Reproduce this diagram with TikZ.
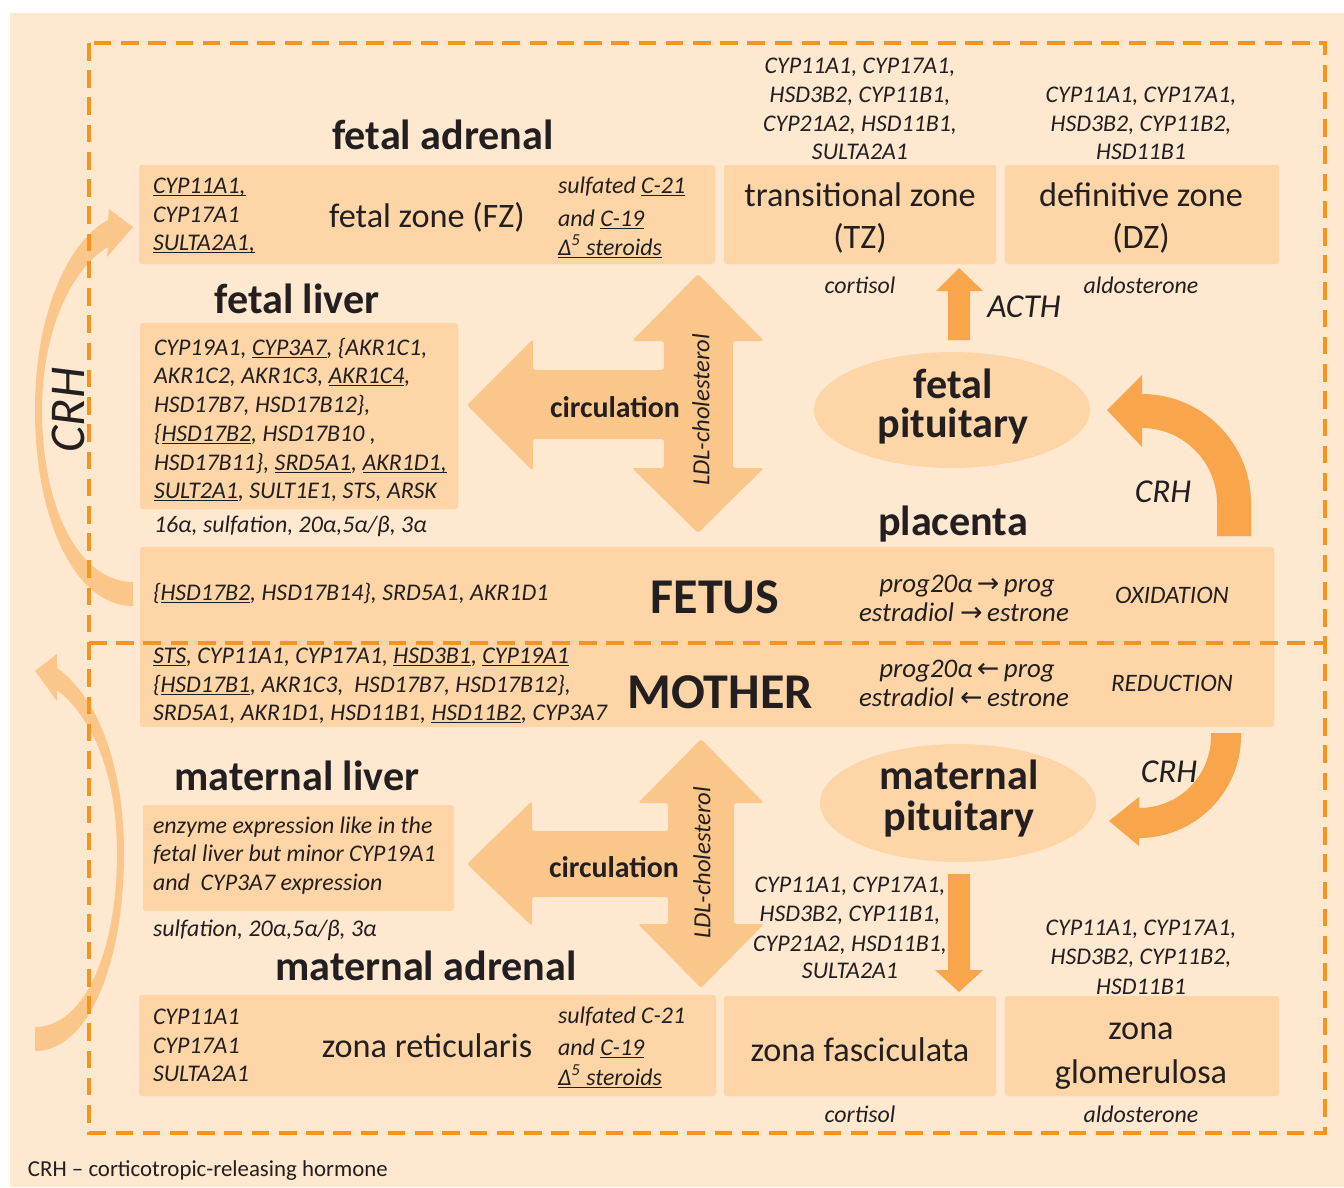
\documentclass[tikz,border=0pt]{standalone}
\usepackage{fontspec}
\setmainfont{Carlito}
\newfontfamily\symfont{DejaVu Sans}
\usetikzlibrary{shapes.geometric}
\definecolor{bgc}{HTML}{FEE8D0}
\definecolor{boxc}{HTML}{FDD5A6}
\definecolor{arrl}{HTML}{FBC68A}
\definecolor{arrd}{HTML}{F8A54B}
\definecolor{dashc}{HTML}{F7941E}
\definecolor{txt}{HTML}{231F20}
\newcommand\uln[1]{\underline{\smash{#1}}}
\newcommand\rar{{\symfont →}}
\newcommand\lar{{\symfont ←}}
\newcommand\pbox[5]{\node[boxst, minimum width={(#4-#2)*0.02cm}, minimum height={(#5-#3)*0.02cm}] (#1) at ({(#2+#4)/2},{(#3+#5)/2}) {};}
\tikzset{
  boxst/.style={fill=boxc, draw=none, inner sep=0pt, outer sep=0pt, rounded corners=1.5pt},
  ellst/.style={ellipse, fill=boxc, draw=none, inner sep=0pt},
  txtst/.style={text=txt, inner sep=0pt, outer sep=0pt},
  gene/.style={txtst, font=\fontsize{13.6}{16}\selectfont\itshape},
  hdr/.style={txtst, font=\fontsize{24}{28}\selectfont\bfseries},
  zonest/.style={txtst, font=\fontsize{19.5}{23}\selectfont},
  bigst/.style={txtst, font=\fontsize{28.5}{32}\selectfont\bfseries},
  circst/.style={txtst, font=\fontsize{17}{20}\selectfont\bfseries},
  ldlst/.style={txtst, font=\fontsize{14}{16}\selectfont\itshape, rotate=90},
  labst/.style={txtst, font=\fontsize{19}{22}\selectfont\itshape},
  progst/.style={txtst, font=\fontsize{15.3}{18}\selectfont\itshape},
  oxist/.style={txtst, font=\fontsize{14.3}{17}\selectfont\itshape},
  notest/.style={txtst, font=\fontsize{13}{16}\selectfont},
  lightarrow/.style={fill=arrl, draw=none},
  darkarrow/.style={fill=arrd, draw=none},
  frame/.style={draw=dashc, line width=2pt, dash pattern=on 10pt off 5.5pt}
}
\begin{document}
\begin{tikzpicture}[x=0.02cm, y=-0.02cm]
\useasboundingbox (0,0) rectangle (1344,1187);
\fill[white] (0,0) rectangle (1344,1187);
\fill[bgc] (10,13) rectangle (1344,1187);

% boxes
\pbox{fzbox}{139}{165}{715}{264}
\pbox{tzbox}{724}{165}{996}{264}
\pbox{dzbox}{1005}{165}{1279}{264}
\pbox{flbox}{140}{323}{458}{509}
\pbox{band}{140}{547}{1274}{727}
\pbox{mlbox}{143}{805}{454}{911}
\pbox{zrbox}{139}{995}{716}{1096}
\pbox{zfbox}{724}{996}{996}{1096}
\pbox{zgbox}{1005}{996}{1279}{1096}

% ellipses
\node[ellst, minimum width=5.52cm, minimum height=2.32cm] (fpit) at (952,410) {};
\node[ellst, minimum width=5.52cm, minimum height=2.36cm] (mpit) at (958,803) {};

% circulation arrows
\fill[lightarrow, rounded corners=1.5pt] (467,405) -- (533,339) -- (533,370) -- (664,370) -- (664,341) -- (632,341) -- (698,274) -- (764,341) -- (733,341) -- (733,468) -- (764,468) -- (698,533) -- (632,468) -- (664,468) -- (664,439) -- (533,439) -- (533,471) -- cycle;
\fill[lightarrow, rounded corners=1.5pt] (467,864) -- (532,801) -- (532,831) -- (668,831) -- (668,803) -- (638,803) -- (701,739) -- (764,803) -- (734,803) -- (734,924) -- (764,924) -- (701,988) -- (638,924) -- (668,924) -- (668,897) -- (532,897) -- (532,926) -- cycle;

% left CRH arcs
\fill[lightarrow] (133,606) .. controls (75,606) and (35,520) .. (35,410) .. controls (35,310) and (70,240) .. (108,220) -- (109,209) -- (133,227) -- (107,257) -- (108,247) .. controls (72,268) and (42,330) .. (42,410) .. controls (42,510) and (80,582) .. (133,582) -- cycle;
\fill[lightarrow] (35,1051) .. controls (90,1051) and (124,960) .. (124,854) .. controls (124,760) and (95,695) .. (57,668) -- (57,654) -- (35,671) -- (57,701) -- (57,690) .. controls (90,715) and (117,770) .. (117,854) .. controls (117,950) and (85,1027) .. (35,1027) -- cycle;

% dark arrows
\fill[darkarrow] (948,340) -- (948,291) -- (936,291) -- (959,268) -- (983,291) -- (970,291) -- (970,340) -- cycle;
\fill[darkarrow] (948,874) -- (970,874) -- (970,970) -- (983,970) -- (959,992) -- (935,970) -- (948,970) -- cycle;
\fill[darkarrow] (1217,536) -- (1217,503) .. controls (1217,462) and (1183,428) .. (1142,428) -- (1142,447) -- (1107,410) -- (1142,375) -- (1142,394) .. controls (1202,394) and (1251,443) .. (1251,503) -- (1251,536) -- cycle;
\fill[darkarrow] (1211,733) -- (1241,733) -- (1241,736) .. controls (1241,792) and (1195,838) .. (1139,838) -- (1139,846) -- (1109,821) -- (1139,797) -- (1139,808) .. controls (1179,808) and (1211,776) .. (1211,736) -- cycle;

% dashed frame
\draw[frame] (89,43) rectangle (1325,1133);
\draw[frame] (89,643) -- (1325,643);

% headers
\node[hdr, anchor=base] (hfa) at (443,149) {fetal adrenal};
\node[hdr, anchor=base] (hfl) at (297,313) {fetal liver};
\node[hdr, anchor=base] (hpl) at (953,535) {placenta};
\node[hdr, anchor=base] (hml) at (297,790) {maternal liver};
\node[hdr, anchor=base] (hma) at (426,980) {maternal adrenal};
\node[bigst, anchor=base] (fetus) at (715,613) {FETUS};
\node[bigst, anchor=base] (mother) at (720,708) {MOTHER};
\node[hdr, anchor=base] (fp1) at (953,398) {fetal};
\node[hdr, anchor=base] (fp2) at (953,437) {pituitary};
\node[hdr, anchor=base] (mp1) at (959,789) {maternal};
\node[hdr, anchor=base] (mp2) at (959,830) {pituitary};

% fetal zone
\node[gene, anchor=base west] (fzg1) at (153,193) {\uln{CYP11A1,}};
\node[gene, anchor=base west] (fzg2) at (153,222) {CYP17A1};
\node[gene, anchor=base west] (fzg3) at (153,250) {\uln{SULTA2A1,}};
\node[zonest, anchor=base] (fzt) at (427,227) {fetal zone (FZ)};
\node[gene, anchor=base west] (fzs1) at (558,193) {sulfated \uln{C-21}};
\node[gene, anchor=base west] (fzs2) at (558,226) {and \uln{C-19}};
\node[gene, anchor=base west] (fzs3) at (558,255) {\uln{Δ\textsuperscript{5} steroids}};

% transitional / definitive zone
\node[gene, anchor=base] (tzg1) at (860,73) {CYP11A1, CYP17A1,};
\node[gene, anchor=base] (tzg2) at (860,102) {HSD3B2, CYP11B1,};
\node[gene, anchor=base] (tzg3) at (860,131) {CYP21A2, HSD11B1,};
\node[gene, anchor=base] (tzg4) at (860,159) {SULTA2A1};
\node[gene, anchor=base] (dzg1) at (1141,102) {CYP11A1, CYP17A1,};
\node[gene, anchor=base] (dzg2) at (1141,131) {HSD3B2, CYP11B2,};
\node[gene, anchor=base] (dzg3) at (1141,159) {HSD11B1};
\node[zonest, anchor=base] (tzt1) at (860,206) {transitional zone};
\node[zonest, anchor=base] (tzt2) at (860,248) {(TZ)};
\node[zonest, anchor=base] (dzt1) at (1141,206) {definitive zone};
\node[zonest, anchor=base] (dzt2) at (1141,248) {(DZ)};
\node[gene, anchor=base] (cort1) at (860,293) {cortisol};
\node[gene, anchor=base] (ald1) at (1141,293) {aldosterone};
\node[labst, anchor=base] (acth) at (1024,317) {ACTH};
\node[labst, anchor=base] (crhf) at (1163,502) {CRH};
\node[labst, anchor=base] (crhm) at (1169,782) {CRH};
\node[txtst, font=\fontsize{28.5}{32}\selectfont\itshape, rotate=90] (crhl) at (68,410) {CRH};

% fetal liver
\node[gene, anchor=base west] (fl1) at (154,355) {CYP19A1, \uln{CYP3A7}, \{AKR1C1,};
\node[gene, anchor=base west] (fl2) at (154,383) {AKR1C2, AKR1C3, \uln{AKR1C4},};
\node[gene, anchor=base west] (fl3) at (154,412) {HSD17B7, HSD17B12\},};
\node[gene, anchor=base west] (fl4) at (154,441) {\{\uln{HSD17B2}, HSD17B10 ,};
\node[gene, anchor=base west] (fl5) at (154,470) {HSD17B11\}, \uln{SRD5A1}, \uln{AKR1D1,}};
\node[gene, anchor=base west] (fl6) at (154,498) {\uln{SULT2A1}, SULT1E1, STS, ARSK};
\node[gene, anchor=base west] (fl7) at (154,532) {16α, sulfation, 20α,5α/β, 3α};

% circulation labels
\node[circst] (circ1) at (615,407) {circulation};
\node[ldlst] (ldl1) at (701,410) {LDL-cholesterol};
\node[circst] (circ2) at (614,867) {circulation};
\node[ldlst] (ldl2) at (702,863) {LDL-cholesterol};

% placenta band
\node[gene, anchor=base west] (pf1) at (153,600) {\{\uln{HSD17B2}, HSD17B14\}, SRD5A1, AKR1D1};
\node[gene, anchor=base west] (pm1) at (153,663) {\uln{STS}, CYP11A1, CYP17A1, \uln{HSD3B1}, \uln{CYP19A1}};
\node[gene, anchor=base west] (pm2) at (153,692) {\{\uln{HSD17B1}, AKR1C3,\ \ HSD17B7, HSD17B12\},};
\node[gene, anchor=base west] (pm3) at (153,720) {SRD5A1, AKR1D1, HSD11B1, \uln{HSD11B2}, CYP3A7};
\node[progst, anchor=base] (ox1) at (967,592) {prog20α\,\rar\,prog};
\node[progst, anchor=base] (ox2) at (964,621) {estradiol \rar\,estrone};
\node[progst, anchor=base] (rd1) at (967,677) {prog20α\,\lar\,prog};
\node[progst, anchor=base] (rd2) at (964,706) {estradiol \lar\,estrone};
\node[oxist, anchor=base] (oxid) at (1172,603) {OXIDATION};
\node[oxist, anchor=base] (redu) at (1172,691) {REDUCTION};

% maternal liver
\node[gene, anchor=base west] (ml1) at (153,833) {enzyme expression like in the};
\node[gene, anchor=base west] (ml2) at (153,861) {fetal liver but minor CYP19A1};
\node[gene, anchor=base west] (ml3) at (153,890) {and\ \ CYP3A7 expression};
\node[gene, anchor=base west] (ml4) at (153,936) {sulfation, 20α,5α/β, 3α};

% maternal adrenal
\node[gene, anchor=base west] (zrg1) at (153,1024) {CYP11A1};
\node[gene, anchor=base west] (zrg2) at (153,1053) {CYP17A1};
\node[gene, anchor=base west] (zrg3) at (153,1081) {SULTA2A1};
\node[zonest, anchor=base] (zrt) at (427,1057) {zona reticularis};
\node[gene, anchor=base west] (zrs1) at (558,1023) {sulfated C-21};
\node[gene, anchor=base west] (zrs2) at (558,1055) {and \uln{C-19}};
\node[gene, anchor=base west] (zrs3) at (558,1085) {\uln{Δ\textsuperscript{5} steroids}};
\node[gene, anchor=base] (zfg1) at (850,892) {CYP11A1, CYP17A1,};
\node[gene, anchor=base] (zfg2) at (850,921) {HSD3B2, CYP11B1,};
\node[gene, anchor=base] (zfg3) at (850,951) {CYP21A2, HSD11B1,};
\node[gene, anchor=base] (zfg4) at (850,978) {SULTA2A1};
\node[gene, anchor=base] (zgg1) at (1141,935) {CYP11A1, CYP17A1,};
\node[gene, anchor=base] (zgg2) at (1141,964) {HSD3B2, CYP11B2,};
\node[gene, anchor=base] (zgg3) at (1141,994) {HSD11B1};
\node[zonest, anchor=base] (zft) at (860,1061) {zona fasciculata};
\node[zonest, anchor=base] (zgt1) at (1141,1039) {zona};
\node[zonest, anchor=base] (zgt2) at (1141,1083) {glomerulosa};
\node[gene, anchor=base] (cort2) at (860,1122) {cortisol};
\node[gene, anchor=base] (ald2) at (1141,1122) {aldosterone};

% footnote
\node[notest, anchor=base west] (note) at (28,1176) {CRH – corticotropic-releasing hormone};
\end{tikzpicture}
\end{document}
